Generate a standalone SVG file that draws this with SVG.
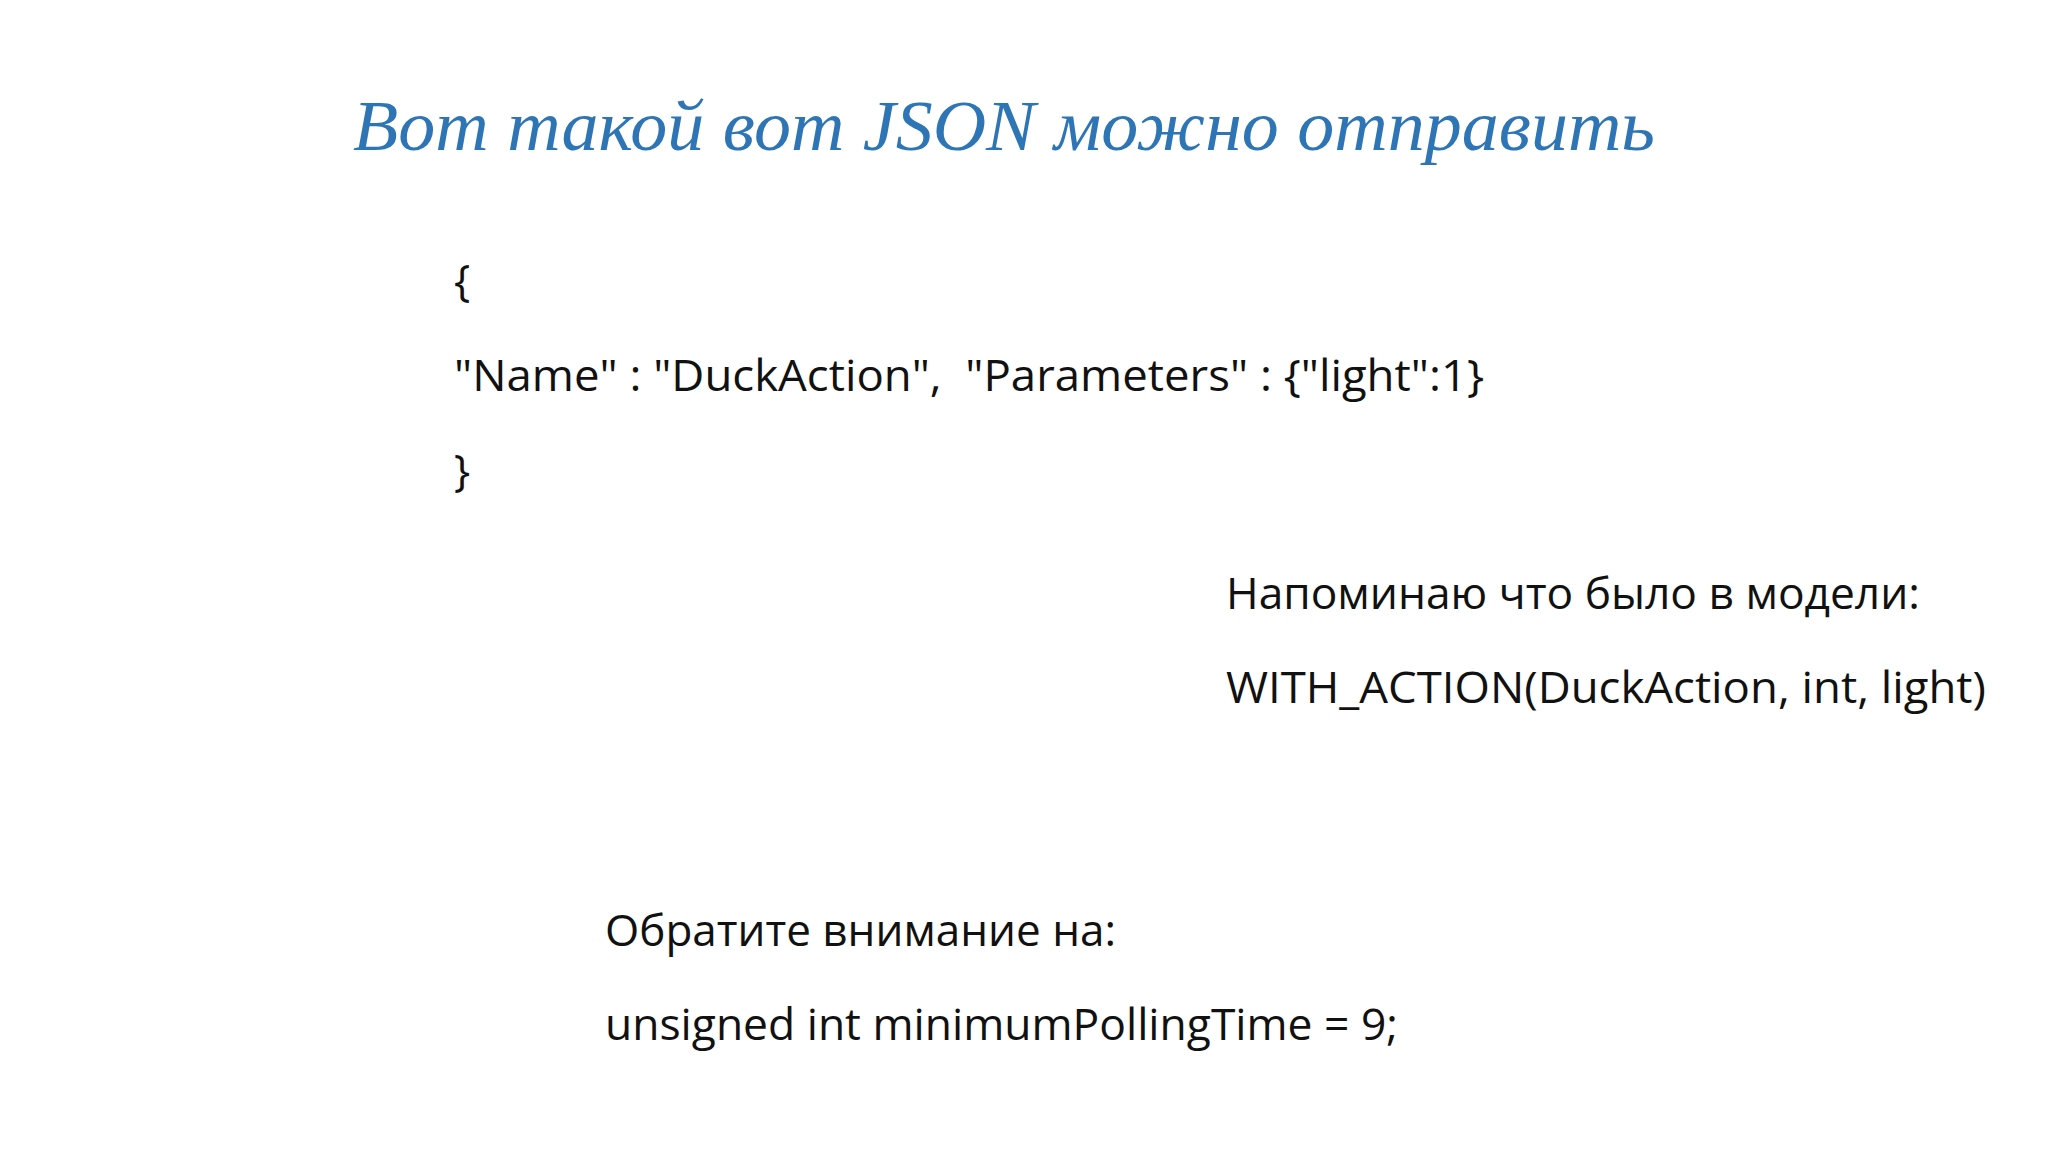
<svg xmlns="http://www.w3.org/2000/svg" width="2048" height="1152" viewBox="0 0 2048 1152">
<style>
.t{font-family:"Open Sans","Liberation Sans",sans-serif;font-size:43px;fill:#111}
.h{font-family:"Liberation Serif",serif;font-style:italic;font-size:71px;fill:#2e75b6}
</style>
<rect width="2048" height="1152" fill="#ffffff"/>
<g id="title"><text class="h" x="353" y="150" textLength="1302" lengthAdjust="spacingAndGlyphs">Вот такой вот JSON можно отправить</text></g>
<g id="json">
<text class="t" x="454" y="296">{</text>
<text class="t" x="454" y="391" textLength="1030" lengthAdjust="spacingAndGlyphs" xml:space="preserve">"Name" : "DuckAction",  "Parameters" : {"light":1}</text>
<text class="t" x="454" y="486">}</text>
</g>
<g id="model">
<text class="t" x="1226" y="609" textLength="694" lengthAdjust="spacingAndGlyphs">Напоминаю что было в модели:</text>
<text class="t" x="1226" y="703" textLength="760" lengthAdjust="spacingAndGlyphs">WITH_ACTION(DuckAction, int, light)</text>
</g>
<g id="note">
<text class="t" x="605" y="946" textLength="511" lengthAdjust="spacingAndGlyphs">Обратите внимание на:</text>
<text class="t" x="605" y="1040" textLength="793" lengthAdjust="spacingAndGlyphs">unsigned int minimumPollingTime = 9;</text>
</g>
<g id="connectors"/>
</svg>
